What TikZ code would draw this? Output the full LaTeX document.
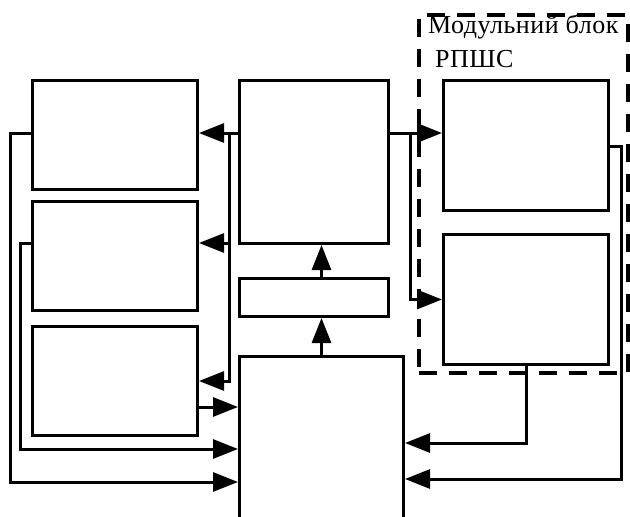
\documentclass[tikz,border=0pt]{standalone}
\usepackage{fontspec}
\setmainfont{Liberation Serif}
\newfontfamily\lblfont[LetterSpace=2]{Liberation Serif}
\usetikzlibrary{arrows.meta,calc}
\tikzset{
    blk/.style={draw,line width=3pt,inner sep=0pt,anchor=north west},
    wire/.style={line width=3pt,-{Triangle[length=25pt,width=19pt]}},
    lbl/.style={inner sep=0pt,anchor=base west,font=\lblfont\fontsize{26}{30}\selectfont}
}
\begin{document}
\begin{tikzpicture}[x=1pt,y=-1pt]
\useasboundingbox (0,0) rectangle (630,517);
\node[blk,minimum width=165pt,minimum height=109pt] (L1) at (31,79) {};
\node[blk,minimum width=165pt,minimum height=109pt] (L2) at (31,200) {};
\node[blk,minimum width=165pt,minimum height=109pt] (L3) at (31,325) {};
\node[blk,minimum width=149pt,minimum height=163pt] (C1) at (238,79) {};
\node[blk,minimum width=149pt,minimum height=38pt] (C2) at (238,277) {};
\node[blk,minimum width=164pt,minimum height=167pt] (C3) at (238,355) {};
\node[blk,minimum width=165pt,minimum height=130pt] (R1) at (442,79) {};
\node[blk,minimum width=165pt,minimum height=130pt] (R2) at (442,233) {};
\node[blk,line width=3.5pt,dash pattern=on 18pt off 12pt,minimum width=209pt,minimum height=358pt] (RB) at (417,13) {};
\node[lbl] (mod) at (428,33) {Модульний блок};
\node[lbl] (rpshs) at (435,67) {РПШС};
\coordinate (busL) at (229,133);
\coordinate (busR) at (410,133);
\coordinate (row2) at (0,243);
\draw[wire] (C1.west |- busL) -- (L1.east |- busL);
\draw[wire] (busL) |- (L3.east);
\draw[wire] (busL |- row2) -- (L2.east |- row2);
\draw[wire] (C1.east |- busR) -- (R1.west |- busR);
\draw[wire] (busR) |- (R2.west);
\draw[wire] (L1.west |- busL) -- ++(-21,0) |- (C3.west |- 0,482);
\draw[wire] (L2.west |- row2) -- ++(-11,0) |- (C3.west |- 0,449);
\draw[wire] (L3.east |- 0,407) -- (C3.west |- 0,407);
\draw[wire] (R1.east |- 0,146) -- ++(11,0) |- (C3.east |- 0,479);
\draw[wire] (R2.south) |- (C3.east |- 0,443);
\draw[wire] (C3.north) -- (C3.north |- C2.south);
\draw[wire] (C3.north |- C2.north) -- (C3.north |- C1.south);
\end{tikzpicture}
\end{document}
